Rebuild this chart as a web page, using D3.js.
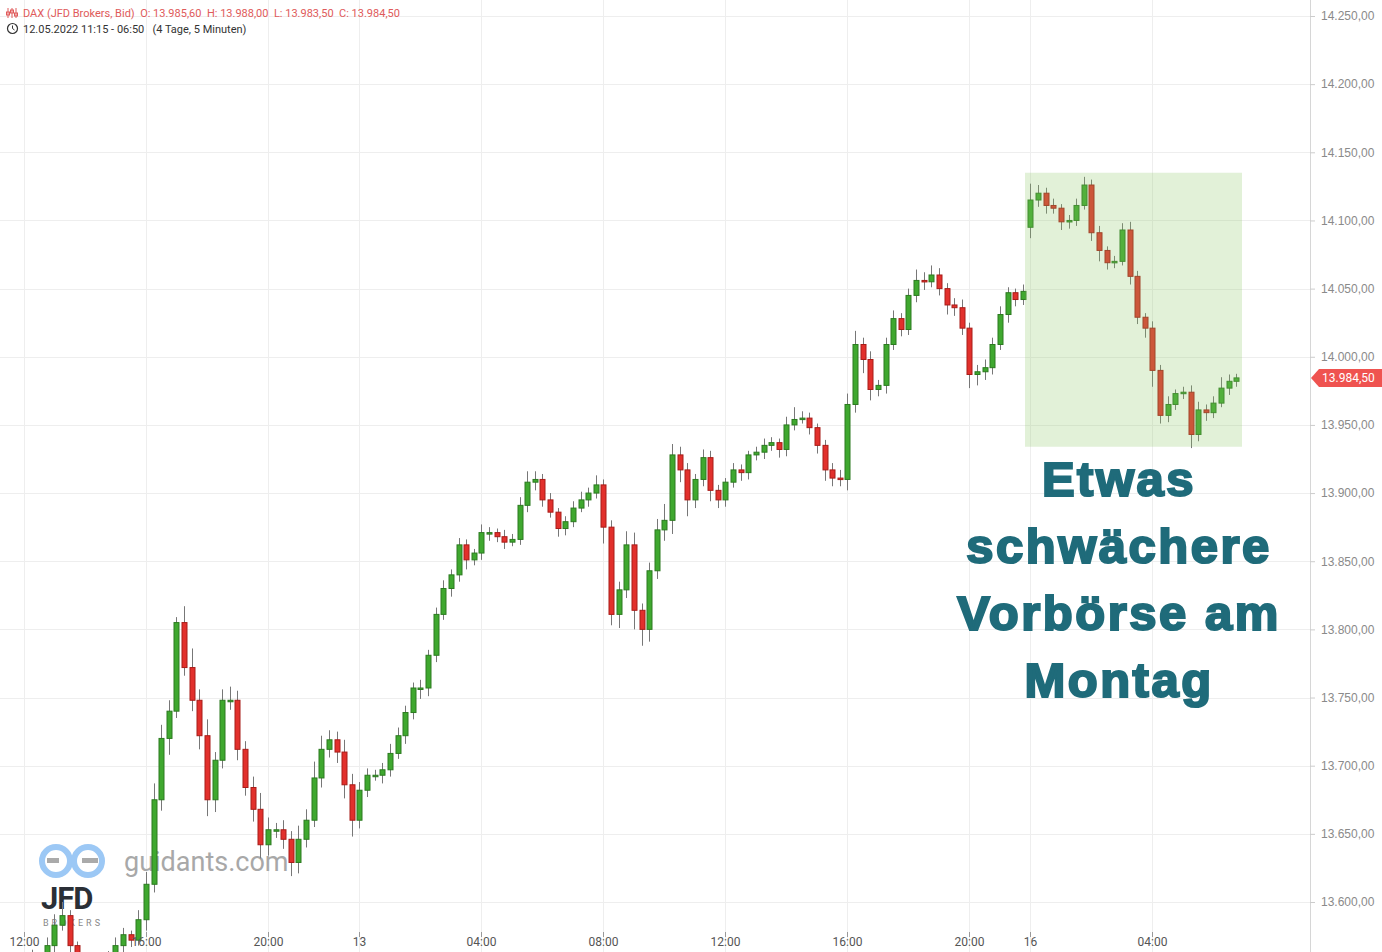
<!DOCTYPE html>
<html>
<head>
<meta charset="utf-8">
<script src="https://cdn.jsdelivr.net/npm/d3@7"></script>
<style>
  body { margin: 0; background: #fff; }
  svg { display: block; font-family: Roboto, "Liberation Sans", sans-serif; }
</style>
</head>
<body>
<svg id="chart" width="1382" height="952"></svg>
<script>
// 15-minute closes (index 0 = 12.05. 11:15)
const closes = [
  13557, 13554, 13557, 13560, 13557, 13560, 13568, 13583, 13590, 13568,
  13560, 13557, 13558, 13557, 13560, 13568, 13576, 13572, 13587, 13613,
  13675, 13720, 13740, 13805, 13772, 13748, 13722, 13675, 13704, 13748,
  13748, 13712, 13684, 13668, 13642, 13653, 13653, 13646, 13629, 13646,
  13660, 13691, 13712, 13719, 13710, 13686, 13660, 13682, 13693, 13693,
  13697, 13709, 13722, 13739, 13757, 13757, 13781, 13811, 13830, 13840,
  13862, 13851, 13856, 13871, 13871, 13868, 13864, 13866, 13891, 13908,
  13910, 13895, 13886, 13874, 13879, 13889, 13895, 13900, 13906, 13875,
  13811, 13829, 13862, 13814, 13800, 13843, 13873, 13880, 13928, 13917,
  13895, 13910, 13926, 13902, 13895, 13908, 13917, 13915, 13928, 13930,
  13935, 13937, 13932, 13950, 13954, 13955, 13948, 13935, 13917, 13911,
  13910, 13965, 14009, 13998, 13976, 13979, 14009, 14028, 14020, 14045,
  14056, 14055, 14060, 14050, 14038, 14036, 14021, 13987, 13989, 13992,
  14009, 14031, 14047, 14042, 14048,
  // Monday 16.05.
  14115, 14120, 14111, 14109, 14099, 14100, 14111, 14126, 14091, 14078,
  14069, 14070, 14093, 14059, 14029, 14021, 13990, 13957, 13965, 13973,
  13974, 13943, 13961, 13959, 13966, 13977, 13982, 13984.5
];
const mondayStart = 135;
const mondayOpen = 14095;
// extra wick above / below the body, in index points
const wickHi = [3,2,4,2,5,3,6,8,10,4, 3,2,5,3,4,6,5,3,7,9,
  12,10,8,4,12,14,8,12,6,8, 10,7,6,8,12,9,5,7,6,10,
  8,12,10,7,6,9,8,6,5,4, 5,7,6,5,4,6,4,5,6,4,
  5,4,3,6,4,3,5,4,6,8, 6,4,5,3,4,5,6,4,7,4,
  5,6,10,9,5,6,8,12,8,6, 5,4,6,5,4,3,5,4,3,4,
  5,4,3,6,9,5,4,3,4,5, 6,8,10,5,6,4,5,6,4,5,
  8,6,7,5,4,5,6,4,5,6, 5,6,4,3,5,
  12,6,4,5,3,4,5,6,4,5, 3,4,5,6,4,3,5,4,6,3, 4,5,6,4,5,8,5,3];
const wickLo = [4,3,2,5,3,4,5,6,4,8, 3,4,2,5,3,4,6,5,4,8,
  6,8,12,5,6,8,10,12,9,6, 7,8,6,9,10,8,6,7,10,8,
  6,5,7,6,8,10,12,6,5,4, 6,5,4,6,5,8,6,5,4,6,
  5,7,4,5,6,4,5,3,4,5, 6,5,4,6,5,4,3,5,4,12,
  8,10,6,14,12,9,6,8,10,9, 12,6,5,8,6,5,4,6,5,4,
  5,4,6,5,4,3,5,6,8,6, 5,8,6,10,8,5,6,4,5,4,
  5,6,4,5,7,6,5,10,8,6, 5,4,6,5,4,
  8,5,6,4,6,5,4,3,6,8, 5,4,3,6,5,7,12,6,5,4, 4,10,5,6,4,3,5,4];

const priceTicks = [13600, 13650, 13700, 13750, 13800, 13850, 13900, 13950,
  14000, 14050, 14100, 14150, 14200, 14250];
const timeTickIdx = [3, 19, 35, 47, 63, 79, 95, 111, 127, 135, 151];
const timeTickLabels = ["12:00", "16:00", "20:00", "13", "04:00", "08:00",
  "12:00", "16:00", "20:00", "16", "04:00"];
const noteLines = ["Etwas", "schwächere", "Vorbörse am", "Montag"];
const lastPrice = 13984.5;

const svg = d3.select("#chart");
const W = 1382, H = 952, plotRight = 1310;

const fmt = d3.formatLocale({decimal: ",", thousands: ".", grouping: [3], currency: ["", ""]}).format(",.2f");

const x = d3.scaleLinear().domain([0, 1]).range([1, 8.625]);
const y = d3.scaleLinear().domain([13600, 14250]).range([902, 16]);

const candles = closes.map((c, i) => {
  const o = i === 0 ? c : (i === mondayStart ? mondayOpen : closes[i - 1]);
  return {i, o, c, h: Math.max(o, c) + wickHi[i], l: Math.min(o, c) - wickLo[i]};
});

// grid
svg.append("g").selectAll("line").data(priceTicks).join("line")
  .attr("x1", 0).attr("x2", plotRight)
  .attr("y1", d => Math.round(y(d)) + 0.5).attr("y2", d => Math.round(y(d)) + 0.5)
  .attr("stroke", "#eeeeee");
svg.append("g").selectAll("line").data(timeTickIdx).join("line")
  .attr("x1", d => Math.round(x(d)) + 0.5).attr("x2", d => Math.round(x(d)) + 0.5)
  .attr("y1", 0).attr("y2", H)
  .attr("stroke", "#eeeeee");

// watermark
const wm = svg.append("g");
wm.append("circle").attr("cx", 56).attr("cy", 861).attr("r", 14)
  .attr("fill", "none").attr("stroke", "#9cc8f5").attr("stroke-width", 6);
wm.append("circle").attr("cx", 88).attr("cy", 861).attr("r", 14)
  .attr("fill", "none").attr("stroke", "#9cc8f5").attr("stroke-width", 6);
wm.append("rect").attr("x", 47).attr("y", 858).attr("width", 12).attr("height", 5).attr("fill", "#aaa");
wm.append("rect").attr("x", 82).attr("y", 858).attr("width", 16).attr("height", 5).attr("fill", "#aaa");
wm.append("text").attr("x", 124).attr("y", 871).attr("font-size", 27)
  .attr("fill", "#a8a8a8").text("guidants.com");
wm.append("text").attr("x", 41).attr("y", 909).attr("font-size", 31).attr("font-weight", 700)
  .attr("letter-spacing", -1).attr("fill", "#2a2f36").text("JFD");
wm.append("text").attr("x", 43).attr("y", 926).attr("font-size", 9)
  .attr("letter-spacing", 3).attr("fill", "#888").text("BROKERS");

// candles
const cg = svg.append("g");
cg.selectAll("line").data(candles).join("line")
  .attr("x1", d => Math.round(x(d.i)) + 0.5).attr("x2", d => Math.round(x(d.i)) + 0.5)
  .attr("y1", d => y(d.h)).attr("y2", d => y(d.l))
  .attr("stroke", "#777");
cg.selectAll("rect").data(candles).join("rect")
  .attr("x", d => Math.round(x(d.i)) - 2)
  .attr("width", 5)
  .attr("y", d => y(Math.max(d.o, d.c)))
  .attr("height", d => Math.max(1.5, Math.abs(y(d.o) - y(d.c))))
  .attr("fill", d => d.c >= d.o ? "#3fa82f" : "#e2302c")
  .attr("stroke", d => d.c >= d.o ? "#2c7a20" : "#a81c18")
  .attr("stroke-width", 1);

// highlight box over monday
svg.append("rect")
  .attr("x", 1025).attr("width", 217)
  .attr("y", y(14135)).attr("height", y(13934) - y(14135))
  .attr("fill", "#8cc864").attr("opacity", 0.25);

// note
svg.append("g").selectAll("text").data(noteLines).join("text")
  .attr("x", 1119).attr("y", (d, i) => 496 + i * 67)
  .attr("text-anchor", "middle")
  .attr("font-family", "'Liberation Sans', Arial, sans-serif")
  .attr("font-weight", 700).attr("font-size", 49)
  .attr("letter-spacing", 2.5)
  .attr("stroke", "#1f6b7a").attr("stroke-width", 2.2)
  .attr("fill", "#1f6b7a").text(d => d);

// right axis
svg.append("rect").attr("x", plotRight + 1).attr("y", 0).attr("width", W - plotRight).attr("height", H).attr("fill", "#fff");
svg.append("line").attr("x1", plotRight + 0.5).attr("x2", plotRight + 0.5)
  .attr("y1", 0).attr("y2", H).attr("stroke", "#d6d6d6");
const ya = svg.append("g").attr("transform", `translate(${plotRight},0)`)
  .call(d3.axisRight(y).tickValues(priceTicks).tickSize(5).tickPadding(6).tickFormat(fmt));
ya.select(".domain").remove();
ya.selectAll(".tick line").attr("stroke", "#ccc");
ya.selectAll(".tick text").attr("fill", "#8a8a8a").attr("font-size", 12);

// last price marker
const ly = y(lastPrice);
svg.append("path")
  .attr("d", `M${plotRight + 1},${ly} L${plotRight + 9},${ly - 9} L${W},${ly - 9} L${W},${ly + 9} L${plotRight + 9},${ly + 9} Z`)
  .attr("fill", "#ef5350");
svg.append("text").attr("x", 1322).attr("y", ly + 4.5).attr("font-size", 12)
  .attr("fill", "#fff").text(fmt(lastPrice));

// bottom axis
const xa = svg.append("g").attr("transform", `translate(0,${H - 20})`);
timeTickIdx.forEach((t, k) => {
  const px = Math.round(x(t)) + 0.5;
  xa.append("line").attr("x1", px).attr("x2", px).attr("y1", 0).attr("y2", 5).attr("stroke", "#999");
  xa.append("text").attr("x", px).attr("y", 14).attr("text-anchor", "middle")
    .attr("font-size", 12).attr("fill", "#555").text(timeTickLabels[k]);
});

// header
const hd = svg.append("g");
[0, 4, 8].forEach((dx, k) => {
  hd.append("line").attr("x1", 8 + dx).attr("x2", 8 + dx).attr("y1", 8).attr("y2", 18)
    .attr("stroke", "#e05a5a").attr("stroke-width", 1);
  hd.append("rect").attr("x", 6.5 + dx).attr("y", [12, 10, 13][k]).attr("width", 3).attr("height", 3)
    .attr("fill", "none").attr("stroke", "#e05a5a");
});
hd.append("text").attr("x", 23).attr("y", 17).attr("font-size", 11).attr("fill", "#e05a5a")
  .attr("xml:space", "preserve")
  .text("DAX (JFD Brokers, Bid)  O: 13.985,60  H: 13.988,00  L: 13.983,50  C: 13.984,50");
hd.append("circle").attr("cx", 12.5).attr("cy", 28.5).attr("r", 5)
  .attr("fill", "none").attr("stroke", "#333").attr("stroke-width", 1.2);
hd.append("path").attr("d", "M12.5,25.5 V28.5 L14.5,30").attr("fill", "none").attr("stroke", "#333");
hd.append("text").attr("x", 23).attr("y", 33).attr("font-size", 11).attr("fill", "#333")
  .attr("xml:space", "preserve")
  .text("12.05.2022 11:15 - 06:50   (4 Tage, 5 Minuten)");
</script>
</body>
</html>
